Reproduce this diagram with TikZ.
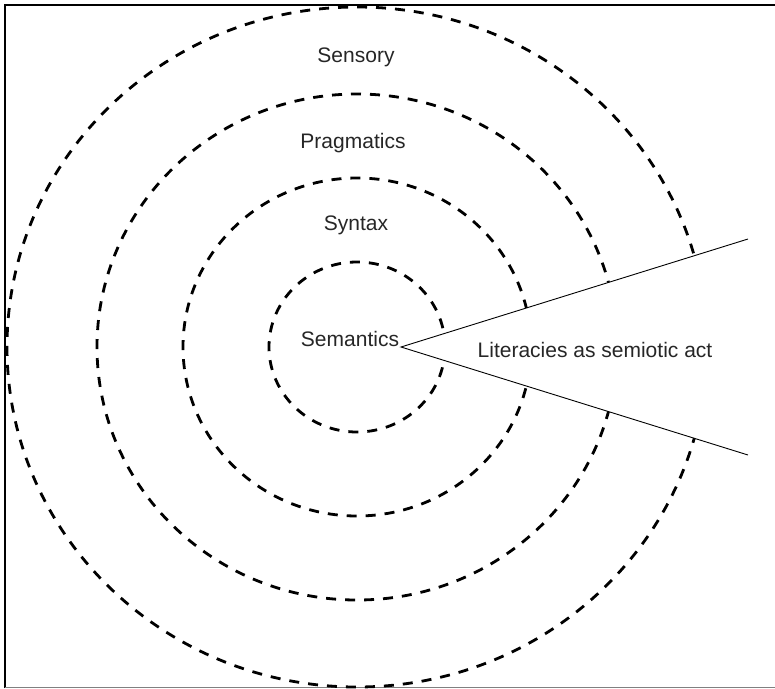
\documentclass[tikz,border=0pt]{standalone}
\usepackage{fontspec}
\setmainfont{Liberation Sans}
\begin{document}
\begin{tikzpicture}[x=1pt,y=-1pt,
  ring/.style={line width=2.8pt, dash pattern=on 10pt off 9pt},
  wedge/.style={line width=0.9pt},
  lbl/.style={font=\fontsize{21}{24}\selectfont, anchor=base, inner sep=0pt, text=black!85}]
\useasboundingbox (0,0) rectangle (775,688);
% frame
\draw[line width=2pt] (5,688) -- (5,5) -- (775,5);
\draw[gray, line width=1pt] (5,687) -- (775,687);
% geometry
\coordinate (c) at (357,347);
\coordinate (apex) at (401,347);
\coordinate (up) at (748,239);
\coordinate (lo) at (748,455);
\begin{scope}
  \clip (apex) -- (800,222.8) -- (800,-20) -- (-20,-20) -- (-20,710) -- (800,710) -- (800,471.2) -- cycle;
  \draw[ring] (c) ellipse [x radius=88pt, y radius=85pt];
  \draw[ring] (c) ellipse [x radius=174pt, y radius=169pt];
  \draw[ring] (c) ellipse [x radius=260pt, y radius=253pt];
  \draw[ring] (c) ellipse [x radius=350pt, y radius=340pt];
\end{scope}
\draw[wedge] (up) -- (apex) -- (lo);
% labels
\node[lbl] (sensory) at (356,62) {Sensory};
\node[lbl] (pragmatics) at (353,148) {Pragmatics};
\node[lbl] (syntax) at (356,230) {Syntax};
\node[lbl] (semantics) at (350,346) {Semantics};
\node[lbl] (literacies) at (595,357) {Literacies as semiotic act};
\end{tikzpicture}
\end{document}
